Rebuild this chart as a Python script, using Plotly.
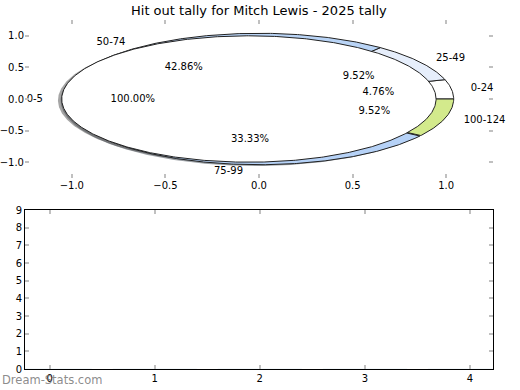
import numpy as np
import plotly.graph_objects as go

# ---- data ----
outer_labels = ["0-24", "25-49", "50-74", "75-99", "100-124"]
outer_counts = [1, 2, 9, 7, 2]
outer_colors = ["#ffffff", "#e6eefb", "#b9d4f6", "#b6d2f7", "#d3ea8c"]

inner_labels = ["0-5"]
inner_counts = [21]
inner_colors = ["#ffffff"]
inner_explode = [0.054]

bar_categories = [0, 1, 2, 3, 4]
bar_values = [0, 0, 0, 0, 0]
bottom_yticks = [0, 1, 2, 3, 4, 5, 6, 7, 8, 9]
top_ticks = [-1.0, -0.5, 0.0, 0.5, 1.0]

title = "Hit out tally for Mitch Lewis - 2025 tally"

OUTER_R = 1.04
INNER_R = 1.0
FONT = "DejaVu Sans"
TXT = 10

fig = go.Figure()


def hex_to_rgb(h):
    h = h.lstrip("#")
    return tuple(int(h[i:i + 2], 16) for i in (0, 2, 4))


def wedge_xy(cx, cy, r, t1, t2):
    n = max(8, int(abs(t2 - t1) * 2))
    ang = np.radians(np.linspace(t1, t2, n))
    xs = cx + r * np.cos(ang)
    ys = cy + r * np.sin(ang)
    if abs(t2 - t1) >= 359.999:
        return list(xs), list(ys)
    return [cx] + list(xs) + [cx], [cy] + list(ys) + [cy]


def pie_geometry(counts, explode):
    total = float(sum(counts))
    out = []
    t = 0.0
    for i, c in enumerate(counts):
        frac = c / total
        t1, t2 = t, t + 360 * frac
        tm = np.radians((t1 + t2) / 2)
        ex = explode[i] if explode else 0.0
        cx, cy = ex * np.cos(tm), ex * np.sin(tm)
        out.append((cx, cy, t1, t2, tm, frac))
        t = t2
    return out


outer_geo = pie_geometry(outer_counts, None)
inner_geo = pie_geometry(inner_counts, inner_explode)

# shadows (drawn below all wedges)
for geo, r, cols in ((outer_geo, OUTER_R, outer_colors), (inner_geo, INNER_R, inner_colors)):
    for (cx, cy, t1, t2, tm, frac), col in zip(geo, cols):
        x, y = wedge_xy(cx - 0.02, cy - 0.02, r, t1, t2)
        rr, gg, bb = hex_to_rgb(col)
        fig.add_trace(go.Scatter(
            x=x, y=y, mode="lines", fill="toself",
            fillcolor=f"rgba({int(rr*0.3)},{int(gg*0.3)},{int(bb*0.3)},0.5)",
            line=dict(width=0), hoverinfo="skip", showlegend=False,
            cliponaxis=False, xaxis="x", yaxis="y"))

# wedges
for geo, r, cols in ((outer_geo, OUTER_R, outer_colors), (inner_geo, INNER_R, inner_colors)):
    for (cx, cy, t1, t2, tm, frac), col in zip(geo, cols):
        x, y = wedge_xy(cx, cy, r, t1, t2)
        fig.add_trace(go.Scatter(
            x=x, y=y, mode="lines", fill="toself", fillcolor=col,
            line=dict(color="#222222", width=1), hoverinfo="skip",
            showlegend=False, cliponaxis=False, xaxis="x", yaxis="y"))

# labels
for geo, r, labels in ((outer_geo, OUTER_R, outer_labels), (inner_geo, INNER_R, inner_labels)):
    for (cx, cy, t1, t2, tm, frac), lab in zip(geo, labels):
        lx = cx + 1.1 * r * np.cos(tm)
        ly = cy + 1.1 * r * np.sin(tm)
        pos = "middle right" if lx > 0 else "middle left"
        fig.add_trace(go.Scatter(
            x=[lx], y=[ly], mode="text", text=[lab], textposition=pos,
            textfont=dict(family=FONT, size=TXT, color="#000000"),
            hoverinfo="skip", showlegend=False, cliponaxis=False,
            xaxis="x", yaxis="y"))
        px = cx + 0.62 * r * np.cos(tm)
        py = cy + 0.62 * r * np.sin(tm)
        fig.add_trace(go.Scatter(
            x=[px], y=[py], mode="text", text=[f"{frac*100:.2f}%"],
            textposition="middle center",
            textfont=dict(family=FONT, size=TXT, color="#000000"),
            hoverinfo="skip", showlegend=False, cliponaxis=False,
            xaxis="x", yaxis="y"))

# bottom (empty) bar chart
fig.add_trace(go.Bar(x=bar_categories, y=bar_values, marker_color="#b6d2f7",
                     showlegend=False, hoverinfo="skip", xaxis="x2", yaxis="y2"))


def fmt(v):
    s = f"{v:.1f}"
    return s.replace("-", "\u2212")


tickfont = dict(family=FONT, size=TXT, color="#000000")
common = dict(ticks="inside", ticklen=4, tickwidth=1.5, tickcolor="#c0c0c0",
              mirror="ticks", showgrid=False, zeroline=False,
              tickfont=tickfont, automargin=False)
fig.update_layout(
    width=520, height=390,
    margin=dict(l=0, r=0, t=0, b=0, autoexpand=False),
    paper_bgcolor="white", plot_bgcolor="rgba(0,0,0,0)",
    xaxis=dict(domain=[25 / 520, 493 / 520], range=[-1.25, 1.25],
               tickvals=top_ticks, ticktext=[fmt(v) for v in top_ticks],
               showline=False, anchor="y", **common),
    yaxis=dict(domain=[1 - 178 / 390, 1 - 20 / 390], range=[-1.25, 1.25],
               tickvals=top_ticks, ticktext=[fmt(v) for v in top_ticks],
               showline=False, anchor="x", **common),
    xaxis2=dict(domain=[25 / 520, 493 / 520], range=[-0.235, 4.22],
                tickvals=bar_categories, showline=True,
                linecolor="#000000", linewidth=1, anchor="y2", **common),
    yaxis2=dict(domain=[1 - 369 / 390, 1 - 210 / 390], range=[0, 9],
                tickvals=bottom_yticks, showline=True,
                linecolor="#000000", linewidth=1, anchor="x2", **common),
    annotations=[
        dict(text=title, x=259 / 520, y=1 - 10 / 390, xref="paper", yref="paper",
             xanchor="center", yanchor="middle", showarrow=False,
             font=dict(family=FONT, size=13, color="#000000")),
        dict(text="Dream-Stats.com", x=0, y=1 - 380 / 390,
             xref="paper", yref="paper", xanchor="left", yanchor="middle",
             showarrow=False,
             font=dict(family=FONT, size=11.5, color="rgba(110,110,110,0.8)")),
    ],
)

fig.write_html("out.html", config={"displayModeBar": False},
               post_script="document.body.style.margin='0';document.body.style.padding='0';")
